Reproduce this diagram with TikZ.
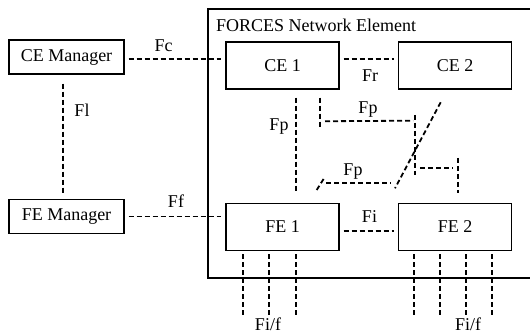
\documentclass[tikz,border=0pt]{standalone}
\usepackage{fontspec}
\setmainfont{Liberation Serif}
\usetikzlibrary{calc}
\begin{document}
\begin{tikzpicture}[x=1pt,y=-1pt,
  txt/.style={font=\fontsize{18}{21}\selectfont},
  box/.style={txt, draw, line width=1.1pt, minimum width=113pt, minimum height=47pt, inner sep=0pt},
  mgr/.style={txt, draw, line width=1.1pt, minimum width=115pt, minimum height=34pt, inner sep=0pt},
  iface/.style={line width=1.8pt, dash pattern=on 5pt off 3pt},
  lbl/.style={txt, anchor=base, inner sep=0pt}]
\useasboundingbox (0,0) rectangle (530,336);
% network element frame
\draw[line width=1.1pt] (530,9) -| (208,278) -- (530,278);
\node[txt, anchor=base west, inner sep=0pt] (ne) at (216,32) {FORCES Network Element};
% nodes
\node[mgr] (cem) at (66.5,57) {CE Manager};
\node[mgr] (fem) at (66.5,216.5) {FE Manager};
\node[box] (ce1) at (282.5,65.5) {CE 1};
\node[box] (ce2) at (455,65.5) {CE 2};
\node[box] (fe1) at (282.5,227) {FE 1};
\node[box] (fe2) at (455,227) {FE 2};
% Fc, Ff
\draw[iface, shorten <=4pt, shorten >=4pt] ($(cem.east)+(0,2)$) -- ($(ce1.west)+(0,-6.5)$);
\node[lbl] (fc) at (163.5,51.7) {Fc};
\draw[iface, shorten <=4pt, shorten >=4pt] (fem.east) -- (fem.east -| fe1.west);
\node[lbl] (ff) at (176,208) {Ff};
% Fl
\draw[iface] ($(cem.south)+(-3.5,9)$) -- ($(fem.north)+(-3.5,-6)$);
\node[lbl] (fl) at (82,116.7) {Fl};
% Fr, Fi
\draw[iface, shorten <=4pt, shorten >=4pt] ($(ce1.east)+(0,-6.5)$) -- ($(ce2.west)+(0,-6.5)$);
\node[lbl] (fr) at (370,81.7) {Fr};
\draw[iface, shorten <=4pt, shorten >=4pt] ($(fe1.east)+(0,4)$) -- ($(fe2.west)+(0,4)$);
\node[lbl] (fi) at (369.5,222.7) {Fi};
% Fp vertical
\draw[iface] ($(ce1.south)+(13.5,8)$) -- ($(fe1.north)+(13.5,-10)$);
\node[lbl] (fp1) at (279,130.7) {Fp};
% Fp from CE1 to crossing
\coordinate (a1) at ($(ce1.south)+(37.5,8)$);
\draw[iface] (a1) -- ++(0,31);
\draw[iface] ($(a1)+(5,23.7)$) -- (413,120.7);
\node[lbl] (fp2) at (368,113.3) {Fp};
\draw[iface] (415,115) -- (415,175);
\draw[iface] (420,168.3) -- (453,168.3);
\draw[iface] (458.3,158) -- ($(fe2.north)+(3.3,-10)$);
% diagonal from CE2
\draw[iface] ($(ce2.south)+(-14.3,12.7)$) -- (395,188.3);
% lower Fp
\draw[iface] (316.7,190) -- (324,178.3);
\draw[iface] (326,183.3) -- (391,183.3);
\node[lbl] (fp3) at (353,176) {Fp};
% Fi/f lines
\foreach \dx [count=\i] in {-39.5,-13.5,13.5}
  \draw[iface] ($(fe1.south)+(\dx,3)$) -- ++(0,62);
\foreach \dx [count=\i] in {-41,-15,11,37}
  \draw[iface] ($(fe2.south)+(\dx,3)$) -- ++(0,62);
\node[lbl] (fif1) at (268,330.5) {Fi/f};
\node[lbl] (fif2) at (468,330.5) {Fi/f};
\end{tikzpicture}
\end{document}
